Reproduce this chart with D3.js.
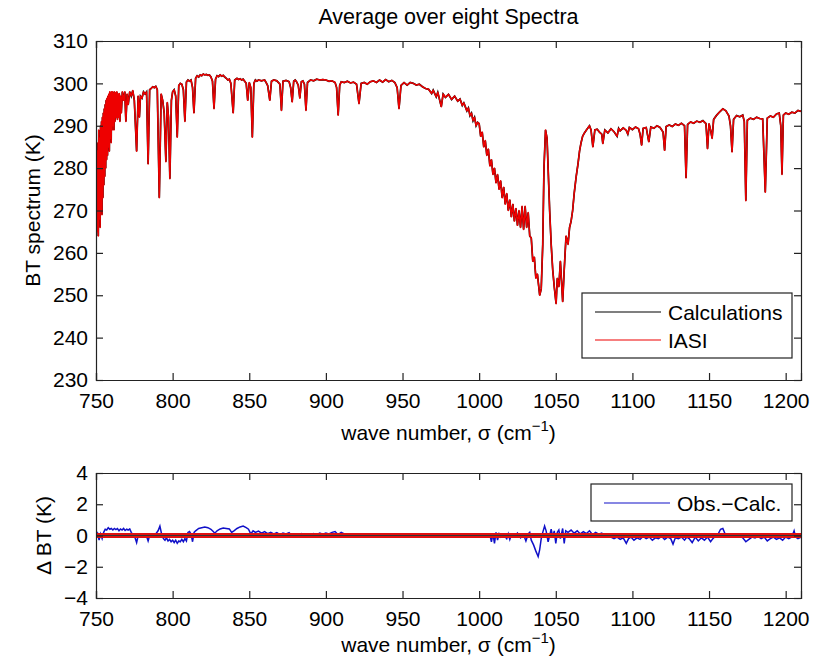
<!DOCTYPE html>
<html>
<head>
<meta charset="utf-8">
<script src="https://cdn.jsdelivr.net/npm/d3@7"></script>
<style>
  body { margin: 0; background: #fff; }
  text { font-family: "Liberation Sans", Arial, sans-serif; fill: #000; }
</style>
</head>
<body>
<div id="container"></div>
<script>
let w = 825;
let h = 663;

// ---- data ----
let xTicks = [750, 800, 850, 900, 950, 1000, 1050, 1100, 1150, 1200];
let btTicks = [230, 240, 250, 260, 270, 280, 290, 300, 310];
let dTicks = [-4, -2, 0, 2, 4];

// IASI brightness temperature spectrum [wave number, BT]
let iasiBT = [
  [750,288],[750.3,267],[750.6,286],[750.9,265],[751.2,284],[751.5,264],[751.8,289],[752.1,268],[752.4,287],[752.7,266],
  [753,290],[753.3,270],[753.6,291],[753.9,269],[754.2,292],[754.5,273],[754.8,293],[755.1,276],[755.4,294],[755.7,278],
  [756,295],[756.3,280],[756.6,296],[756.9,282],[757.2,296.5],[757.5,283],[757.8,297],[758.1,285],[758.4,297.5],[758.7,284],
  [759,298],[759.3,287],[759.6,297.8],[759.9,286],[760.2,298],[760.5,289],[760.8,298],[761.1,290],[761.4,297.6],[761.7,289],
  [762,298],[762.4,291],[762.8,297.8],[763.2,292],[763.6,298],[764,291.5],[764.4,297.5],[764.8,292],[765.2,297.6],[765.6,291],
  [766,297],[766.5,293],[767.2,298],[768,296],
  [768.8,298],[769.5,291],[770.3,297.5],[771,295],[772,298],[773,297],[774,298.3],[775,296],[776.5,284],[777.5,297],
  [778.3,292],[779,297],[780,296.5],[781,298],[782,297.5],[783,298],[784,281],[785,298.5],[786,298.8],[787,299.2],
  [788,299],[789,299.3],[790,298.5],[791.3,273],[792.5,297.5],[793.5,296],[794.5,293],[795.6,281.5],[796.5,295.5],[797.3,292],
  [798.2,277.5],[799.2,296],[800,298],[801,298.5],[802,297],[803,287.3],[804,299.5],[805,300],[806,299.8],[807,298.5],
  [808,291],[809,300.3],[810,300.8],[811,300.5],[812,300.8],[813,299],[813.9,293],[815,301.2],[816,301.8],[817,301.5],
  [818,302],[819,301.8],[820,302.2],[821,302],[822,302.1],[823,301.9],[824,302],[825,301.5],[826,300.5],[827,294],
  [828,301],[829,301.8],[830,301.6],[831,302],[832,301.7],[833,301.9],[834,301.5],[835,301.2],[836,300.8],[837,301],
  [838,300],[839.5,293],[840.5,300.8],[842,301.2],[843,300.9],[844,301.1],[845,300.8],[846,301],[847,300.5],[848,300],
  [849,296],[850,300.2],[851,299],[852,287.3],[853,300],[854,300.8],[855,300.5],[856,300.8],[858,300.6],[860,300.8],
  [861,300.2],[862,299.5],[863.4,296],[864.5,300.5],[866,300.8],[868,300.6],[870,299.8],[871,293.6],[872,300.5],[874,300.7],
  [876,300.4],[877,299],[878,295.6],[879,300.5],[880,300.8],[881,300.3],[882,299.5],[883,296.5],[884,300.4],[885,300.6],
  [886,299.8],[887,293.6],[888,300.2],[890,300.8],[892,300.6],[894,301],[896,300.8],[898,300.9],[900,300.8],[902,300.5],
  [904,300.6],[906,300.2],[907,299],[908,292.5],[909,299.5],[910,300.4],[912,300.2],[914,300.5],[916,300.1],[918,300.3],
  [920,299.8],[921.6,295.2],[923,300],[925,300.2],[927,299.8],[929,300.4],[931,300.6],[933,300.2],[935,300.8],[937,300.3],
  [939,300.9],[941,300.4],[943,300.7],[945,300.2],[946.5,299],[947.7,294],[949,299.5],[951,300.2],[953,299.6],[955,300.2],
  [957,300],[959,299.6],[961,299.8],[963,299.2],[965,298.8],[967,298.6],[969,297.6],[970,298.4],[972,296.8],[973,297.9],
  [975.3,294.5],[976.5,297.5],[978,296.7],[980,297.4],[982,296.2],[984,297],[986,295.8],[987.5,296.3],[989,294.8],[990,295.4],
  [992,293.5],[993,294.2],[994,292.4],[995,293],[996,291.2],[997,292],[998,290],[999,290.8],[1000,290.5],[1001,287.5],
  [1002,288.5],[1003,285],[1004,286.5],[1005,283],[1006,284.5],[1007,280.5],[1008,282],[1009,278.5],[1010,280],[1011,276.5],
  [1012,278.5],[1013,275],[1014,277],[1015,273],[1016,275.5],[1017,271.5],[1018,274],[1019,270],[1020,272.5],[1021,268.5],
  [1022,271.5],[1023,267.5],[1024,270.5],[1025,266.5],[1026,270],[1027,266],[1028,271],[1029,265.5],[1030,271],[1031,266],
  [1032,269.5],[1033,264],[1034,263.5],[1035,258],[1036,259],[1037,254],[1038,255],[1039.5,250],[1040.5,251.5],[1041.5,262],
  [1042.3,280],[1043.3,289],[1044.3,287],[1045,280],[1046,270],[1047,262],[1048,256],[1049,252],[1050.2,248],[1051,254],
  [1052,252],[1053,258],[1054.5,248.5],[1055.5,256],[1056.7,264],[1058,262],[1059,266],[1060,267.5],[1061,270],[1062,274],
  [1063.3,278],[1064.5,281],[1065.5,284],[1066.5,286],[1067.5,287.5],[1068.7,288.3],[1070,289],[1072,290],[1073,289],[1074.2,285],
  [1075.5,289],[1077,289.2],[1078.5,288.5],[1080,288],[1080.7,285.8],[1082,289],[1084,288.3],[1086,289.3],[1088,288.6],[1090,287.5],
  [1091,289.4],[1092,288.8],[1094,289.5],[1096,288.9],[1097,288],[1098,289.6],[1100,289.1],[1102,289.7],[1104,289.3],[1105,288],
  [1106,285.4],[1107,289.4],[1109,289.6],[1110.7,286.2],[1112,289.7],[1114,289.4],[1116,290],[1118,289.6],[1120,288.5],[1121,284.2],
  [1122,289.8],[1124,290.2],[1126,289.8],[1128,290.4],[1130,290.1],[1132,290.6],[1134,290],[1135,277.7],[1136,290.3],[1138,290.9],
  [1140,290.6],[1142,291.1],[1144,290.8],[1146,291.2],[1148,290.5],[1149,284.6],[1150,290.5],[1151,289],[1152,287],[1153,291.5],
  [1155,292.5],[1157,293.3],[1159,294],[1161,293.5],[1163,292.3],[1164,290],[1165,283.8],[1166,291.5],[1168,292.4],[1170,292.1],
  [1172,292.5],[1173,291],[1174,272.3],[1175,291.3],[1177,291.8],[1179,291.5],[1181,292],[1183,291.7],[1185,291.6],[1186.7,274.3],
  [1188,291.8],[1190,292.3],[1192,292],[1194,292.8],[1195.8,293],[1196.8,290],[1197.6,278.5],[1198.5,292.5],[1200,293],[1202,292.7],
  [1204,293.2],[1206,293],[1208,293.6],[1210,293.4]
];
// calculated spectrum lies on top of the observed one in the picture
let calcBT = iasiBT;

// Obs. - Calc. [wave number, delta BT]
let obsCalc = [
  [750,0],[751,0.15],[752,-0.3],[753,0.1],[754,-0.2],[755,0.2],[756,0.4],[757,0.35],[758,0.5],[759,0.4],
  [760,0.45],[761,0.35],[762,0.45],[763,0.38],[764,0.45],[765,0.3],[766,0.42],[767,0.35],[768,0.45],[769,0.32],
  [770,0.4],[771,0.35],[772,0.42],[773,0.2],[774,0.05],[775,0],[776.5,-0.45],[777.5,0],[779,-0.05],[781,0.02],
  [783,-0.05],[784,-0.35],[785,0],[787,0.05],[789,0.1],[790.5,0.3],[791.7,0.6],[792.8,0.1],[794,-0.2],[795,-0.3],
  [796,-0.15],[797,-0.35],[798,-0.25],[799,-0.4],[800,-0.3],[801,-0.45],[802,-0.3],[803,-0.5],[804,-0.35],[805,-0.4],
  [806,-0.25],[807,-0.4],[808,-0.2],[809,-0.35],[810,0.2],[811,0.25],[812,0.1],[813,-0.4],[814,0.2],[815,0.3],
  [817,0.45],[819,0.5],[821,0.55],[823,0.5],[825,0.4],[826.5,0.25],[827.5,0.15],[829,0.3],[831,0.42],[833,0.48],
  [835,0.45],[837,0.42],[838.5,0.2],[840,0.3],[842,0.45],[844,0.55],[846,0.6],[848,0.5],[849.5,0.4],[851,0.1],
  [852.5,0.3],[854,0.2],[856,0.28],[858,0.15],[860,0.25],[862,0.12],[864,0.2],[866,0.1],[868,0.18],[870,0.05],
  [872,0.15],[874,0.1],[876,0.18],[878,-0.05],[880,0.1],[882,0.05],[884,0.12],[886,0.02],[888,0.1],[890,0.05],
  [892,0.12],[894,0.05],[896,0.15],[898,0.08],[900,0.15],[902,0.1],[904,0.2],[906,0.25],[908,0.05],[910,0.2],
  [912,0.1],[915,0.05],[920,0.08],[925,0.03],[930,0.06],[935,0.02],[940,0.05],[945,0.02],[950,0.05],[955,0],
  [960,0.04],[965,0],[970,0.03],[975,0],[980,0.02],[985,0],[990,0.02],[995,0],[1000,0.02],[1005,0],
  [1007,0.05],[1008,-0.4],[1009,0.1],[1010,-0.5],[1011,0.2],[1012,-0.3],[1013,0.1],[1014,-0.1],[1016,0.05],[1018,-0.2],
  [1019,0.1],[1020,-0.25],[1021,0.05],[1023,-0.1],[1025,0.15],[1027,-0.15],[1029,0.05],[1030.5,-0.35],[1032,0.1],[1033,0.2],
  [1034,-0.3],[1035.5,-0.6],[1037,-1.0],[1038.5,-1.35],[1039.5,-0.9],[1040.5,-0.2],[1041.5,0.2],[1042.7,0.6],[1043.7,0.3],[1045,-0.4],
  [1046,0],[1047,0.4],[1048,-0.1],[1049,0.3],[1050,-0.5],[1051,0.2],[1052,0.35],[1053,-0.2],[1054.5,0.45],[1055.5,-0.5],
  [1056.5,0.3],[1058,0.2],[1060,0.35],[1062,0.15],[1064,0.3],[1066,0.1],[1068,0.25],[1070,0.12],[1072,0.3],[1074,0.05],
  [1076,0.2],[1078,0.08],[1080,0.15],[1082,0],[1084,0.1],[1086,-0.1],[1088,-0.2],[1090,-0.1],[1092,-0.25],[1094,-0.15],
  [1096,-0.5],[1097.5,-0.2],[1099,-0.1],[1101,-0.3],[1103,-0.15],[1105,-0.25],[1107,-0.05],[1109,-0.2],[1111,-0.1],[1113,-0.3],
  [1115,-0.15],[1117,-0.2],[1119,-0.05],[1121,-0.25],[1123,-0.1],[1125,-0.2],[1126.5,-0.55],[1128,-0.15],[1130,-0.2],[1132,-0.1],
  [1134,-0.3],[1135.5,-0.1],[1137,-0.2],[1139,-0.45],[1141,-0.1],[1143,-0.35],[1145,-0.15],[1147,-0.3],[1149,-0.1],[1151,-0.4],
  [1152.5,-0.2],[1154,-0.05],[1156,0.1],[1157.5,0.4],[1159,0.45],[1160.5,0.1],[1162,0],[1164,-0.05],[1166,0.05],[1168,-0.05],
  [1170,0],[1172,-0.15],[1174,-0.4],[1176,-0.25],[1178,-0.1],[1180,-0.15],[1182,-0.05],[1184,-0.2],[1186,-0.1],[1188,-0.35],
  [1190,-0.2],[1192,-0.1],[1194,-0.25],[1196,-0.15],[1198,-0.3],[1200,-0.1],[1202,-0.2],[1204,-0.1],[1205.5,0.3],[1206.5,-0.1],
  [1208,-0.2],[1210,-0.1]
];
// zero reference in the lower panel
let zeroLine = [[750, 0], [1210, 0]];

let viz = d3.select("#container").append("svg")
  .attr("width", w)
  .attr("height", h)
  .style("background-color", "white");

let left = 96, right = 801;
let top1 = 41, bot1 = 380;
let top2 = 473, bot2 = 598;
let tickLen = 7;

let xScale = d3.scaleLinear().domain([750, 1210]).range([left, right]);
let yTop = d3.scaleLinear().domain([230, 310]).range([bot1, top1]);
let yBot = d3.scaleLinear().domain([-4, 4]).range([bot2, top2]);

let defs = viz.append("defs");
defs.append("clipPath").attr("id", "clip1").append("rect")
  .attr("x", left).attr("y", top1).attr("width", right - left).attr("height", bot1 - top1);
defs.append("clipPath").attr("id", "clip2").append("rect")
  .attr("x", left).attr("y", top2).attr("width", right - left).attr("height", bot2 - top2);

function fmt(d) {
  return d < 0 ? "\u2212" + Math.abs(d) : String(d);
}

// draws a matlab style box with inward ticks on all sides
function drawAxes(yScale, yVals, top, bot) {
  let g = viz.append("g");
  let xb = d3.axisBottom(xScale).tickValues(xTicks).tickSize(-tickLen).tickPadding(13).tickFormat(fmt);
  let xt = d3.axisTop(xScale).tickValues(xTicks).tickSize(-tickLen).tickFormat("");
  let yl = d3.axisLeft(yScale).tickValues(yVals).tickSize(-tickLen).tickPadding(8).tickFormat(fmt);
  let yr = d3.axisRight(yScale).tickValues(yVals).tickSize(-tickLen).tickFormat("");

  g.append("g").attr("transform", "translate(0," + bot + ")").call(xb);
  g.append("g").attr("transform", "translate(0," + top + ")").call(xt);
  g.append("g").attr("transform", "translate(" + left + ",0)").call(yl);
  g.append("g").attr("transform", "translate(" + right + ",0)").call(yr);

  g.selectAll(".domain").attr("stroke", "#222").attr("stroke-width", 1.2);
  g.selectAll(".tick line").attr("stroke", "#222").attr("stroke-width", 1.2);
  g.selectAll(".tick text")
    .style("font-family", "'Liberation Sans', Arial, sans-serif")
    .style("font-size", "21px")
    .attr("fill", "#111");
  return g;
}

// ---- top panel ----
let line1 = d3.line().x(d => xScale(d[0])).y(d => yTop(d[1]));

viz.append("path")
  .datum(calcBT)
  .attr("clip-path", "url(#clip1)")
  .attr("d", line1)
  .attr("fill", "none")
  .attr("stroke", "black")
  .attr("stroke-width", 1.7);

viz.append("path")
  .datum(iasiBT)
  .attr("clip-path", "url(#clip1)")
  .attr("d", line1)
  .attr("fill", "none")
  .attr("stroke", "#ee0000")
  .attr("stroke-width", 1.5)
  .attr("stroke-linejoin", "round");

drawAxes(yTop, btTicks, top1, bot1);

// ---- bottom panel ----
let line2 = d3.line().x(d => xScale(d[0])).y(d => yBot(d[1]));

viz.append("path")
  .datum(obsCalc)
  .attr("clip-path", "url(#clip2)")
  .attr("d", line2)
  .attr("fill", "none")
  .attr("stroke", "#1010c8")
  .attr("stroke-width", 1.5);

viz.append("path")
  .datum(zeroLine)
  .attr("clip-path", "url(#clip2)")
  .attr("d", line2)
  .attr("fill", "none")
  .attr("stroke", "#e01010")
  .attr("stroke-width", 5);

viz.append("path")
  .datum(zeroLine)
  .attr("clip-path", "url(#clip2)")
  .attr("d", line2)
  .attr("fill", "none")
  .attr("stroke", "#333")
  .attr("stroke-width", 1);

drawAxes(yBot, dTicks, top2, bot2);

// ---- texts ----
viz.append("text")
  .attr("x", (left + right) / 2).attr("y", 24)
  .attr("text-anchor", "middle")
  .style("font-size", "21.5px")
  .text("Average over eight Spectra");

function xLabel(y) {
  let t = viz.append("text")
    .attr("x", (left + right) / 2).attr("y", y)
    .attr("text-anchor", "middle")
    .style("font-size", "21px");
  t.append("tspan").text("wave number, \u03c3 (cm");
  t.append("tspan").attr("dy", -9).style("font-size", "15px").text("\u22121");
  t.append("tspan").attr("dy", 9).text(")");
}
xLabel(440);
xLabel(652);

viz.append("text")
  .attr("transform", "translate(40," + (top1 + bot1) / 2 + ") rotate(-90)")
  .attr("text-anchor", "middle")
  .style("font-size", "21px")
  .text("BT spectrum (K)");

viz.append("text")
  .attr("transform", "translate(51," + (top2 + bot2) / 2 + ") rotate(-90)")
  .attr("text-anchor", "middle")
  .style("font-size", "21px")
  .text("\u0394 BT (K)");

// ---- legends ----
function legend(x0, y0, bw, bh, items) {
  let g = viz.append("g");
  g.append("rect")
    .attr("x", x0).attr("y", y0).attr("width", bw).attr("height", bh)
    .attr("fill", "white").attr("stroke", "#222").attr("stroke-width", 1.2);
  items.forEach(function(it, i) {
    let cy = y0 + it.dy;
    g.append("line")
      .attr("x1", x0 + 13).attr("x2", x0 + 79)
      .attr("y1", cy).attr("y2", cy)
      .attr("stroke", it.color).attr("stroke-width", 1.2);
    g.append("text")
      .attr("x", x0 + 86).attr("y", cy + 7.5)
      .style("font-size", "21px")
      .text(it.label);
  });
}
legend(582, 293, 210, 65, [
  {label: "Calculations", color: "black", dy: 19},
  {label: "IASI", color: "#ee0000", dy: 47}
]);
legend(591, 484, 201, 37, [
  {label: "Obs.\u2212Calc.", color: "#1010c8", dy: 19}
]);
</script>
</body>
</html>
